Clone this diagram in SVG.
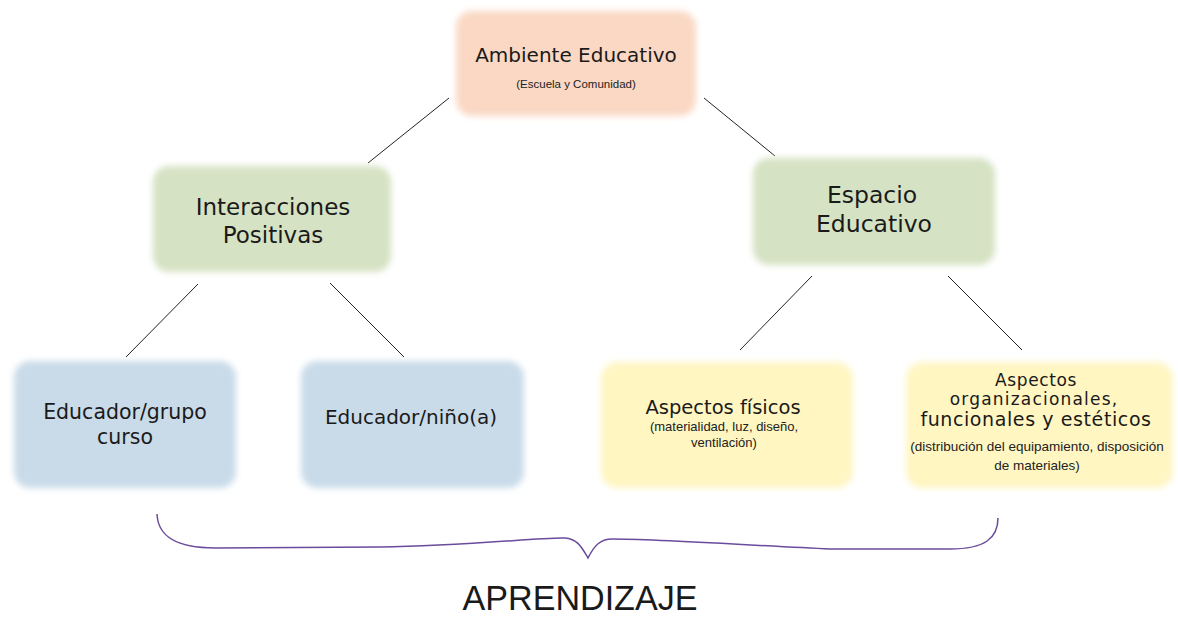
<svg xmlns="http://www.w3.org/2000/svg" width="1178" height="618" viewBox="0 0 1178 618">
<defs>
<filter id="soft" x="-10%" y="-15%" width="120%" height="130%"><feGaussianBlur stdDeviation="3"/></filter>
<style>
.box{filter:url(#soft)}
.peach{fill:#fad8c4}
.green{fill:#d5e2c3}
.blue{fill:#c9dbe9}
.yellow{fill:#fff6c2}
.lbl{font-family:"DejaVu Sans",sans-serif;fill:#1a1a1a;text-anchor:middle}
.sub{font-family:"Liberation Sans",Arial,sans-serif;fill:#222;text-anchor:middle}
.conn line{stroke:#222;stroke-width:1}
</style>
</defs>
<rect width="1178" height="618" fill="#ffffff"/>
<g class="conn" id="connectors">
<line x1="449" y1="98" x2="368" y2="163"/>
<line x1="704" y1="98" x2="775" y2="156"/>
<line x1="198" y1="284" x2="126" y2="357"/>
<line x1="330" y1="283" x2="404" y2="357"/>
<line x1="812" y1="276" x2="740" y2="350"/>
<line x1="948" y1="276" x2="1022" y2="350"/>
</g>
<g id="ambiente">
<rect class="box peach" x="456" y="11" width="240" height="105" rx="16"/>
<text class="lbl" x="576" y="62" font-size="20">Ambiente Educativo</text>
<text class="sub" x="576" y="88" font-size="11.5">(Escuela y Comunidad)</text>
</g>
<g id="interacciones">
<rect class="box green" x="153" y="166" width="238" height="106" rx="16"/>
<text class="lbl" x="273" y="215" font-size="23">Interacciones</text>
<text class="lbl" x="273" y="243" font-size="23">Positivas</text>
</g>
<g id="espacio">
<rect class="box green" x="753" y="158" width="242" height="107" rx="16"/>
<text class="lbl" x="872" y="203" font-size="23.5">Espacio</text>
<text class="lbl" x="874" y="232" font-size="23.5">Educativo</text>
</g>
<g id="grupo">
<rect class="box blue" x="14" y="361" width="222" height="127" rx="16"/>
<text class="lbl" x="125" y="419" font-size="20.5">Educador/grupo</text>
<text class="lbl" x="125" y="444" font-size="20.5">curso</text>
</g>
<g id="nino">
<rect class="box blue" x="301" y="361" width="223" height="127" rx="16"/>
<text class="lbl" x="411" y="424" font-size="20">Educador/niño(a)</text>
</g>
<g id="fisicos">
<rect class="box yellow" x="601" y="362" width="252" height="126" rx="16"/>
<text class="lbl" x="723" y="414" font-size="19.5">Aspectos físicos</text>
<text class="sub" x="724" y="431" font-size="13">(materialidad, luz, diseño,</text>
<text class="sub" x="724" y="447" font-size="13">ventilación)</text>
</g>
<g id="organizacionales">
<rect class="box yellow" x="906" y="362" width="267" height="126" rx="16"/>
<text class="lbl" x="1036" y="386" font-size="17" letter-spacing="0.6">Aspectos</text>
<text class="lbl" x="1034" y="405" font-size="17" letter-spacing="1.2">organizacionales,</text>
<text class="lbl" x="1036" y="426" font-size="19" letter-spacing="0.6">funcionales y estéticos</text>
<text class="sub" x="1037" y="451" font-size="13.5">(distribución del equipamiento, disposición</text>
<text class="sub" x="1037" y="470" font-size="13.5">de materiales)</text>
</g>
<g id="brace">
<path d="M157,514 C158,536 175,548 215,548 L380,547 C470,546 540,537 565,538 C578,539 582,548 588,558 C594,546 600,539 612,539 C660,539 760,546 830,549 L950,549 C985,549 998,538 998,518" fill="none" stroke="#6a4c9c" stroke-width="1.5"/>
</g>
<g id="aprendizaje">
<text x="580" y="610" font-family="Liberation Sans,Arial,sans-serif" font-size="35" fill="#1a1a1a" text-anchor="middle" textLength="235" lengthAdjust="spacingAndGlyphs">APRENDIZAJE</text>
</g>
</svg>
